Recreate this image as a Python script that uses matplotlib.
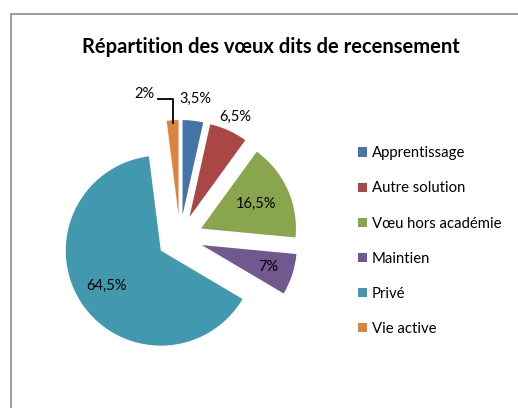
import numpy as np
import matplotlib.pyplot as plt
from matplotlib.patches import Rectangle

categories = ["Apprentissage", "Autre solution", "Vœu hors académie",
              "Maintien", "Privé", "Vie active"]
values = [3.5, 6.5, 16.5, 7, 64.5, 2]
value_labels = ["3,5%", "6,5%", "16,5%", "7%", "64,5%", "2%"]
colors = ["#4572A7", "#AA4643", "#89A54E", "#71588F", "#4198AF", "#DB843D"]
# distance of each label from its slice tip, in radii
label_dist = [1.23, 1.16, 0.64, 0.74, 0.68, 1.32]

plt.rcParams["font.family"] = ["Lato", "DejaVu Sans"]

W, H = 518, 408
fig = plt.figure(figsize=(W / 100, H / 100), dpi=100)
ax = fig.add_axes([0, 0, 1, 1])

R = 95
wedges, _ = ax.pie(values, colors=colors, startangle=90, counterclock=False,
                   explode=[23] * len(values), radius=R, center=(180, H - 238),
                   frame=False)
ax.set_xlim(0, W)
ax.set_ylim(0, H)
ax.set_aspect("auto")
ax.axis("off")

for i, w in enumerate(wedges):
    mid = np.deg2rad((w.theta1 + w.theta2) / 2)
    cx, cy = w.center
    if value_labels[i] == "2%":
        # label off to the upper left with an elbow leader line
        ang = mid + np.deg2rad(12)
        tx = cx + R * label_dist[i] * np.cos(ang)
        ty = cy + R * label_dist[i] * np.sin(ang)
        sx = cx + R * 0.97 * np.cos(mid)
        sy = cy + R * 0.97 * np.sin(mid)
        ax.plot([sx, sx, tx + 13], [sy, ty - 5, ty - 5], color="black", lw=1.3)
        ax.text(tx, ty, value_labels[i], ha="center", va="center", fontsize=10.5)
    else:
        tx = cx + R * label_dist[i] * np.cos(mid)
        ty = cy + R * label_dist[i] * np.sin(mid)
        ax.text(tx, ty, value_labels[i], ha="center", va="center", fontsize=10.5)

fig.text(271 / W, 1 - 47 / H, "Répartition des vœux dits de recensement",
         ha="center", va="center", fontsize=14.5, fontweight="bold")

leg = fig.legend(wedges, categories, loc="upper left",
                 bbox_to_anchor=(345 / W, 1 - 133 / H), frameon=False,
                 fontsize=10.7, handlelength=0.6, handleheight=0.6,
                 handletextpad=0.3, labelspacing=1.42)

fig.patches.append(Rectangle((10.5 / W, -0.1), 1.2, 1 - 13.5 / H + 0.1,
                             transform=fig.transFigure, fill=False,
                             edgecolor="#8c8c8c", lw=1.2))

fig.savefig("out.png", dpi=100)
